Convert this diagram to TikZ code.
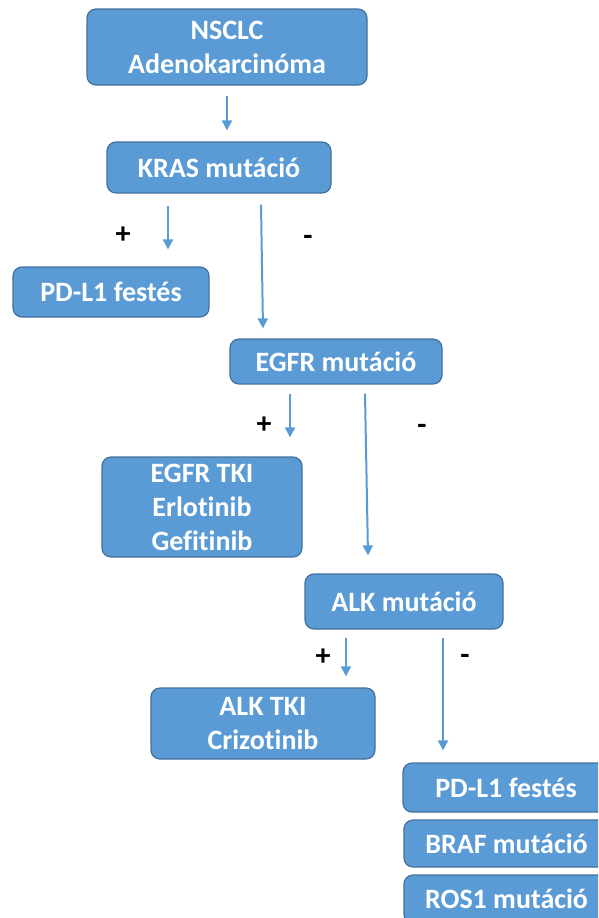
\documentclass[tikz,border=0pt]{standalone}
\usepackage{fontspec}
\setmainfont{Carlito}[Ligatures={NoCommon}]
\usetikzlibrary{arrows.meta}
\definecolor{boxfill}{HTML}{5B9BD5}
\definecolor{boxline}{HTML}{41719C}
\definecolor{arrcol}{HTML}{5B9BD5}
\tikzset{
  box/.style={draw=boxline, fill=boxfill, line width=1.2pt, rounded corners=9pt,
    text=white, font=\fontsize{28}{34}\selectfont\bfseries, align=center, inner sep=0pt},
  arr/.style={draw=arrcol, line width=2pt, -{Triangle[width=10pt,length=10pt]}},
  sign/.style={font=\fontsize{30}{34}\selectfont\bfseries, text=black, inner sep=0pt}
}
\begin{document}
\begin{tikzpicture}[x=1pt,y=-1pt]
\useasboundingbox (0,0) rectangle (598,918);
\clip (0,0) rectangle (598,918);
\node[box, minimum width=280pt, minimum height=76pt] (nsclc) at (227,47) {NSCLC\\Adenokarcinóma};
\node[box, minimum width=224pt, minimum height=51pt] (kras) at (219,167.5) {KRAS mutáció};
\node[box, minimum width=196pt, minimum height=50pt] (pdla) at (111,292) {PD-L1 festés};
\node[box, minimum width=212pt, minimum height=45pt] (egfr) at (336,361.5) {EGFR mutáció};
\node[box, minimum width=200pt, minimum height=100pt] (egfrtki) at (202,507) {EGFR TKI\\Erlotinib\\Gefitinib};
\node[box, minimum width=198pt, minimum height=55pt] (alk) at (404,601.5) {ALK mutáció};
\node[box, minimum width=224pt, minimum height=71pt] (alktki) at (263,723.5) {ALK TKI\\Crizotinib};
\node[box, minimum width=206pt, minimum height=49pt] (pdlb) at (506,787.5) {PD-L1 festés};
\node[box, minimum width=205pt, minimum height=47pt] (braf) at (506.5,843.5) {BRAF mutáció};
\node[box, minimum width=205pt, minimum height=48pt] (ros) at (506.5,899) {ROS1 mutáció};

\draw[arr] ([yshift=-10pt]nsclc.south) -- ([xshift=8pt,yshift=11pt]kras.north);
\draw[arr] ([xshift=-51pt,yshift=-12pt]kras.south) -- ([xshift=57pt,yshift=17pt]pdla.north);
\draw[arr] ([xshift=42pt,yshift=-11pt]kras.south) -- ([xshift=-73pt,yshift=10pt]egfr.north);
\draw[arr] ([xshift=-46pt,yshift=-9pt]egfr.south) -- ([xshift=88pt,yshift=19pt]egfrtki.north);
\draw[arr] ([xshift=29pt,yshift=-9pt]egfr.south) -- ([xshift=-36pt,yshift=18pt]alk.north);
\draw[arr] ([xshift=-58pt,yshift=-8pt]alk.south) -- ([xshift=83pt,yshift=11pt]alktki.north);
\draw[arr] ([xshift=39pt,yshift=-8pt]alk.south) -- ([xshift=-63pt,yshift=12pt]pdlb.north);

\node[sign] (p1) at (123,235) {+};
\node[sign] (m1) at (308,240) {-};
\node[sign] (p2) at (264,425) {+};
\node[sign] (m2) at (422,429) {-};
\node[sign] (p3) at (323,657) {+};
\node[sign] (m3) at (465,659) {-};
\end{tikzpicture}
\end{document}
